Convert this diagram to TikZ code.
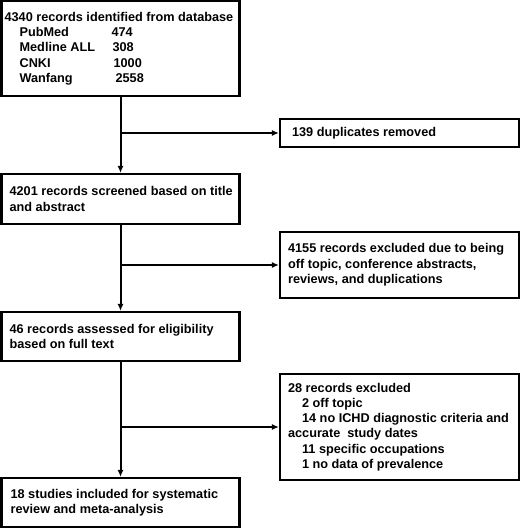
\documentclass[tikz,border=0pt]{standalone}
\usepackage{fontspec}
\setmainfont{Liberation Sans}
\usetikzlibrary{arrows.meta}
\begin{document}
\begin{tikzpicture}[x=1pt,y=-1pt,
  box/.style={draw,line width=2.2pt,rectangle,inner sep=0pt,minimum width=238pt},
  rbox/.style={draw,line width=2.2pt,rectangle,inner sep=0pt,minimum width=239pt},
  txt/.style={font=\fontsize{12.7pt}{15.3pt}\selectfont\bfseries,align=left,inner sep=0pt,anchor=west},
  conn/.style={line width=2pt,-{Latex[length=7pt,width=6pt]}}]
\useasboundingbox (0,0) rectangle (520,529);
% boxes
\node[box,minimum height=95pt,label={[txt,xshift=4pt]west:{4340 records identified from database\\
\hspace*{15pt}\makebox[92pt][l]{PubMed}474\\
\hspace*{15pt}\makebox[93pt][l]{Medline ALL}308\\
\hspace*{15pt}\makebox[94pt][l]{CNKI}1000\\
\hspace*{15pt}\makebox[96pt][l]{Wanfang}2558}}] (b1) at (120.5,48.5) {};
\node[rbox,minimum height=28pt,label={[txt,xshift=13pt]west:{139 duplicates removed}}] (dup) at (399.5,133) {};
\node[box,minimum height=50pt,label={[txt,xshift=9pt]west:{4201 records screened based on title\\and abstract}}] (b2) at (120.5,199) {};
\node[rbox,minimum height=66pt,label={[txt,xshift=9pt]west:{4155 records excluded due to being\\off topic, conference abstracts,\\reviews, and duplications}}] (ex1) at (399.5,265) {};
\node[box,minimum height=49pt,label={[txt,xshift=9pt]west:{46 records assessed for eligibility\\based on full text}}] (b3) at (120.5,336.5) {};
\node[rbox,minimum height=106pt,label={[txt,xshift=9pt]west:{28 records excluded\\
\hspace*{14pt}2 off topic\\
\hspace*{14pt}14 no ICHD diagnostic criteria and\\
accurate\ \ study dates\\
\hspace*{14pt}11 specific occupations\\
\hspace*{14pt}1 no data of prevalence}}] (ex2) at (399.5,427) {};
\node[box,minimum height=49pt,label={[txt,xshift=10pt]west:{18 studies included for systematic\\review and meta-analysis}}] (b4) at (120.5,502.5) {};
% connectors
\draw[conn] (b1) -- (b2);
\draw[conn] (b1.south |- dup.west) -- (dup.west);
\draw[conn] (b2) -- (b3);
\draw[conn] (b2.south |- ex1.west) -- (ex1.west);
\draw[conn] (b3) -- (b4);
\draw[conn] (b3.south |- ex2.west) -- (ex2.west);
\end{tikzpicture}
\end{document}
